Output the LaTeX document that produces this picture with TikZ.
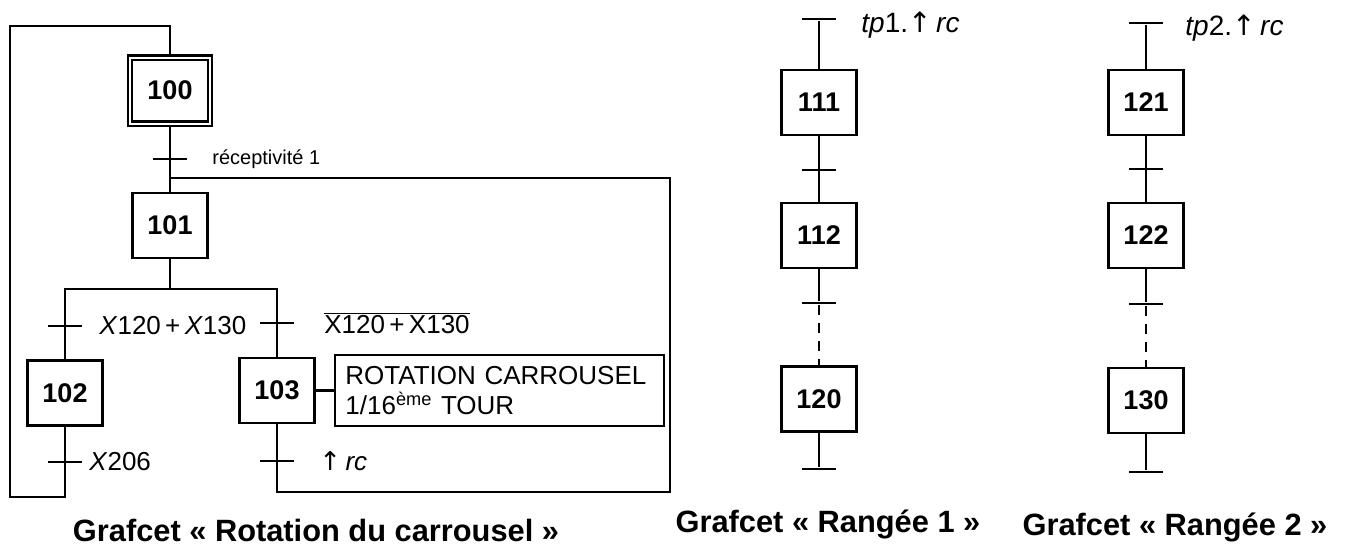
\documentclass[tikz,border=0pt]{standalone}
\usepackage{fontspec}
\setmainfont{Liberation Sans}
\newfontfamily\arrowfont{DejaVu Sans}
\usetikzlibrary{positioning}

\begin{document}
\begin{tikzpicture}[x=0.5pt, y=-0.5pt, line width=1.2pt,
    etape/.style={draw, rectangle, minimum width=37.5pt, minimum height=32.5pt, inner sep=0pt, font=\bfseries\fontsize{13.5}{16}\selectfont},
    initiale/.style={etape, double, double distance=1pt, minimum width=40pt, minimum height=33pt},
    transition/.style={fill, rectangle, inner sep=0pt, minimum width=17pt, minimum height=1.2pt},
    cond/.style={inner sep=0pt, font=\fontsize{13}{15}\selectfont},
    action/.style={draw, rectangle, align=left, text width=154pt, inner xsep=5.25pt, minimum height=35.5pt, font=\fontsize{13}{15}\selectfont},
    titre/.style={font=\bfseries\fontsize{15.4}{18}\selectfont}]
    \useasboundingbox (0,0) rectangle (1349,547);

    % Grafcet rotation du carrousel
    \node[initiale] (s100) at (170,90.5) {100};
    \node[transition] (t1) at (170,159) {};
    \node[cond, right=11.5pt of t1, font=\fontsize{10}{12}\selectfont] (c1) {réceptivité 1};
    \node[etape] (s101) at (170,225.5) {101};
    \coordinate (dv) at (170,289);
    \node[transition] (t2) at (65,326) {};
    \node[cond, right=7.5pt of t2] (c2) {\textit{X}120\,+\,\textit{X}130};
    \node[transition] (t3) at (277,323) {};
    \node[cond, right=14pt of t3] (c3) {$\overline{\mbox{X120\,+\,X130}}$};
    \node[etape] (s102) at (65,393) {102};
    \node[etape] (s103) at (277,390.5) {103};
    \node[action, right=9pt of s103] (a103) {ROTATION CARROUSEL\\1/16\textsuperscript{ème} TOUR};
    \node[transition] (t4) at (65,462) {};
    \node[cond, right=2.5pt of t4] (c4) {\textit{X}206};
    \node[transition] (t5) at (277,461) {};
    \node[cond, right=11.5pt of t5] (c5) {{\arrowfont ↑}\,\textit{rc}};

    \draw[shorten <=1.1pt] (s100) -- (s101);
    \draw (s101) -- (dv);
    \draw (s102) |- (dv) -| (s103);
    \draw (s103) -- (a103);

    % Retour vers l'etape 100
    \coordinate (bg) at (10,497);
    \coordinate (hg) at (10,26);
    \draw[shorten >=1.1pt] (s102) |- (bg) -- (hg) -| (s100);

    % Retour vers l'etape 101
    \coordinate (bd) at (670,492);
    \coordinate (hd) at (670,178);
    \draw (s103) |- (bd) -- (hd) -- (s101 |- hd);

    % Grafcet rangee 1
    \node[transition] (t11) at (819,19) {};
    \node[cond, right=11.5pt of t11, yshift=-3pt, font=\fontsize{14}{16}\selectfont] (c11) {\textit{tp}1.{\arrowfont ↑}\,\textit{rc}};
    \node[etape] (s111) at (819,102.5) {111};
    \node[transition] (t12) at (819,170) {};
    \node[etape] (s112) at (819,235.5) {112};
    \node[transition] (t13) at (819,303) {};
    \node[etape] (s120) at (819,399) {120};
    \node[transition] (t14) at (819,469) {};

    \draw (t11) -- (s111) -- (s112) -- (t13);
    \draw[dash pattern=on 5pt off 4pt] (t13) -- (s120);
    \draw (s120) -- (t14);

    % Grafcet rangee 2
    \node[transition] (t21) at (1146,23) {};
    \node[cond, right=10pt of t21, yshift=-2.5pt, font=\fontsize{14}{16}\selectfont] (c21) {\textit{tp}2.{\arrowfont ↑}\,\textit{rc}};
    \node[etape] (s121) at (1146,102.5) {121};
    \node[transition] (t22) at (1146,169) {};
    \node[etape] (s122) at (1146,235.5) {122};
    \node[transition] (t23) at (1146,304) {};
    \node[etape] (s130) at (1146,400.5) {130};
    \node[transition] (t24) at (1146,472) {};

    \draw (t21) -- (s121) -- (s122) -- (t23);
    \draw[dash pattern=on 5pt off 4pt] (t23) -- (s130);
    \draw (s130) -- (t24);

    % Titres
    \node[titre] (g1) at (316,530) {Grafcet « Rotation du carrousel »};
    \node[titre] (g2) at (828,524) {Grafcet « Rangée 1 »};
    \node[titre] (g3) at (1175,527) {Grafcet « Rangée 2 »};
\end{tikzpicture}
\end{document}
